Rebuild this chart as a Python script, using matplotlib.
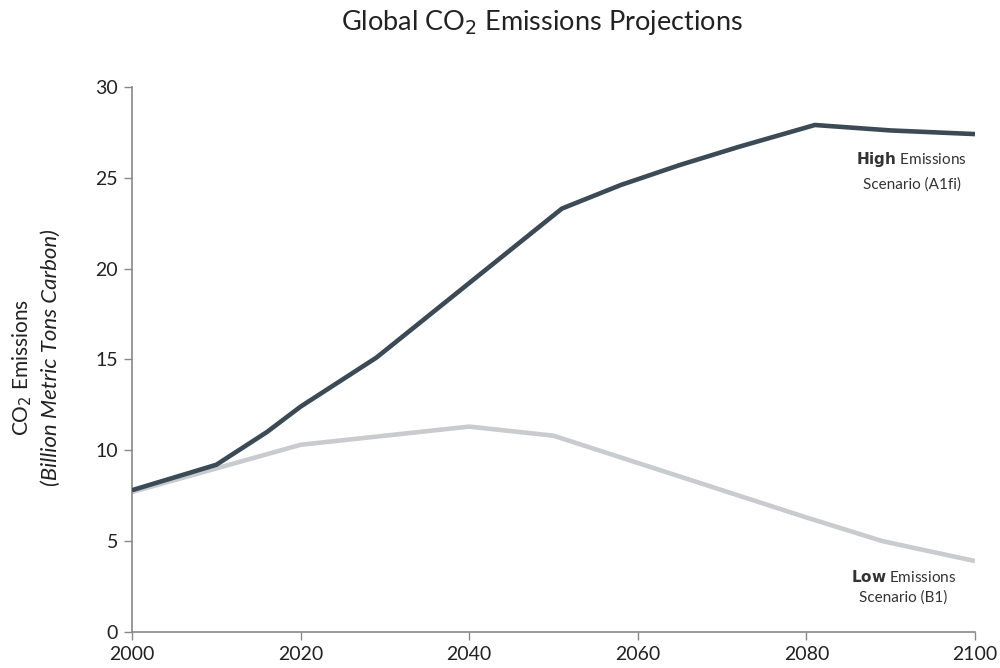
import numpy as np
import matplotlib.pyplot as plt
import matplotlib as mpl

mpl.rcParams['font.family'] = ['Lato', 'DejaVu Sans']

years_high = [2000, 2010, 2016, 2020, 2029, 2040, 2051, 2058, 2065, 2072, 2081, 2090, 2100]
high = [7.8, 9.2, 11.0, 12.4, 15.1, 19.2, 23.3, 24.6, 25.7, 26.7, 27.9, 27.6, 27.4]

years_low = [2000, 2010, 2020, 2030, 2040, 2050, 2060, 2070, 2080, 2089, 2100]
low = [7.7, 9.0, 10.3, 10.8, 11.3, 10.8, 9.3, 7.8, 6.3, 5.0, 3.9]

xticks = [2000, 2020, 2040, 2060, 2080, 2100]
yticks = [0, 5, 10, 15, 20, 25, 30]

fig = plt.figure(figsize=(10, 6.68), dpi=100)
ax = fig.add_axes([0.132, 0.054, 0.843, 0.816])

ax.plot(years_low, low, color='#c9cbcf', lw=3.3, solid_capstyle='butt', zorder=2)
ax.plot(years_high, high, color='#3b4a55', lw=3.3, solid_capstyle='butt', zorder=3)

ax.set_xlim(2000, 2100)
ax.set_ylim(0, 30)
ax.set_xticks(xticks)
ax.set_yticks(yticks)
ax.tick_params(labelsize=14, colors='#888888', labelcolor='#222222',
               length=6, width=1, pad=4)
for s in ['top', 'right']:
    ax.spines[s].set_visible(False)
for s in ['left', 'bottom']:
    ax.spines[s].set_color('#888888')
    ax.spines[s].set_linewidth(1.2)

fig.text(0.542, 0.966, 'Global CO$_2$ Emissions Projections', ha='center',
         va='center', fontsize=19.5, color='#222222')
fig.text(0.022, 0.45, 'CO$_2$ Emissions', rotation=90, ha='center',
         va='center', fontsize=15, color='#222222')
fig.text(0.051, 0.464, '(Billion Metric Tons Carbon)', rotation=90, ha='center',
         va='center', fontsize=16, color='#222222', style='italic')

ax.text(2092.5, 26.0, r'$\bf{High}$ Emissions', ha='center', va='center',
        fontsize=11, color='#333333')
ax.text(2092.5, 24.6, 'Scenario (A1fi)', ha='center', va='center',
        fontsize=11, color='#333333')
ax.text(2091.5, 3.0, r'$\bf{Low}$ Emissions', ha='center', va='center',
        fontsize=11, color='#333333')
ax.text(2091.5, 1.9, 'Scenario (B1)', ha='center', va='center',
        fontsize=11, color='#333333')

plt.savefig('out.png', dpi=100)
